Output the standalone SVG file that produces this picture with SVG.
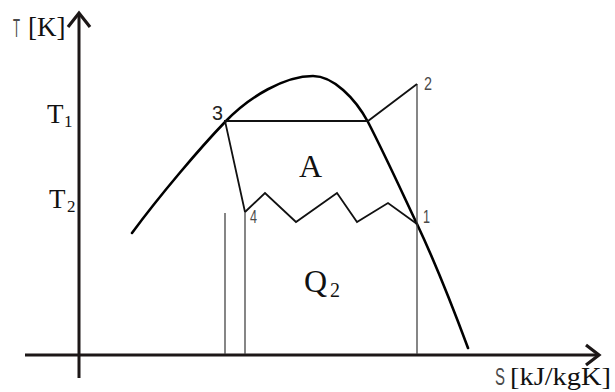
<svg xmlns="http://www.w3.org/2000/svg" width="615" height="392" viewBox="0 0 615 392">
<style>
.axis{stroke:#1c1717;stroke-width:3;fill:none}
.head{stroke:#1c1717;stroke-width:3.2;fill:none;stroke-linecap:butt;stroke-linejoin:miter}
.curve{stroke:#000;stroke-width:2.6;fill:none;stroke-linecap:round}
.cyc{stroke:#111;stroke-width:1.8;fill:none;stroke-linejoin:miter}
.vl{stroke:#444;stroke-width:1.3;fill:none}
.serif{font-family:"Liberation Serif","Times New Roman",serif;fill:#111}
.num{font-family:"Liberation Sans",Arial,sans-serif;fill:#4a4a4a}
</style>
<rect width="615" height="392" fill="#fff"/>
<g id="axes">
<line class="axis" x1="79" y1="378" x2="79" y2="14"/>
<polyline class="head" points="68,27 79,13 90,27"/>
<line class="axis" x1="25" y1="355" x2="598" y2="355"/>
<polyline class="head" points="586,345 599,355 586,365"/>
</g>
<g id="curve">
<path class="curve" d="M132,233 C160,195 200,148 225,122 C250,96 285,76 313,76 C333,76 355,98 368,122 C385,155 400,188 417,224 C435,262 452,305 468,348"/>
</g>
<g id="verticals">
<line class="vl" x1="225" y1="213" x2="225" y2="354"/>
<line class="vl" x1="245" y1="212" x2="245" y2="354"/>
<line class="vl" x1="417" y1="84" x2="417" y2="354"/>
</g>
<g id="cycle">
<polyline class="cyc" points="245,212 225,121 368,121 417,84"/>
<polyline class="cyc" points="245,212 265,193 296,222 337,193 357,222 388,203 417,224"/>
</g>
<g id="labels">
<text class="num" x="13" y="37" font-size="26" textLength="7" lengthAdjust="spacingAndGlyphs">T</text>
<text class="serif" x="28" y="36" font-size="27">[K]</text>
<text class="serif" x="47" y="123" font-size="27">T</text>
<text class="serif" x="64" y="127" font-size="17">1</text>
<text class="serif" x="49" y="208" font-size="27">T</text>
<text class="serif" x="67" y="212" font-size="17">2</text>
<text class="num" x="212" y="120" font-size="21" style="fill:#222" textLength="11" lengthAdjust="spacingAndGlyphs">3</text>
<text class="num" x="250" y="223" font-size="18" textLength="7" lengthAdjust="spacingAndGlyphs">4</text>
<text class="num" x="423" y="223" font-size="18" textLength="7" lengthAdjust="spacingAndGlyphs">1</text>
<text class="num" x="424" y="90" font-size="18" textLength="8" lengthAdjust="spacingAndGlyphs">2</text>
<text class="serif" x="299" y="177" font-size="32">A</text>
<text class="serif" x="304" y="292" font-size="32">Q</text>
<text class="serif" x="330" y="297" font-size="20">2</text>
<text class="num" x="495" y="385" font-size="24" textLength="10" lengthAdjust="spacingAndGlyphs">S</text>
<text class="serif" x="510" y="385" font-size="26" textLength="101" lengthAdjust="spacingAndGlyphs">[kJ/kgK]</text>
</g>
</svg>
